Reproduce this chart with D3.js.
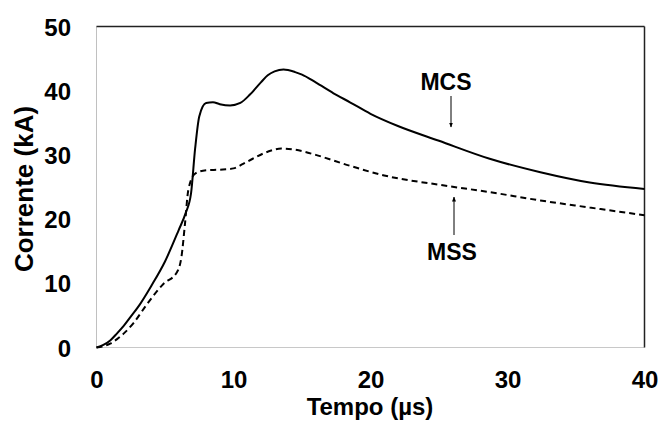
<!DOCTYPE html>
<html>
<head>
<meta charset="utf-8">
<script src="https://cdn.jsdelivr.net/npm/d3@7"></script>
<style>
  html, body { margin: 0; padding: 0; background: #fff; }
  svg { display: block; font-family: "Liberation Sans", Arial, sans-serif; }
</style>
</head>
<body>
<svg id="chart" width="660" height="421"></svg>
<script>
// Current waveforms (kA) versus time (µs)
const mcsTime = [0, 0.5, 1, 1.5, 2, 2.5, 3, 4, 5, 6, 6.5, 6.9, 7.2, 7.5, 8, 8.5, 9, 9.75, 10.5, 11.2, 12, 12.5, 13, 13.65, 14.5, 15, 16, 17.3, 18.5, 20, 22, 25, 28.7, 32.4, 36, 40];
const mcsCurrent = [0, 0.4, 1.1, 2.2, 3.4, 4.8, 6.2, 9.6, 13.4, 18.3, 20.9, 24.0, 31.0, 36.0, 38.1, 38.2, 37.9, 37.7, 38.1, 39.4, 41.3, 42.4, 43.0, 43.3, 42.9, 42.5, 41.3, 39.6, 38.2, 36.4, 34.5, 32.2, 29.4, 27.3, 25.7, 24.7];

const mssTime = [0, 0.5, 1, 1.5, 2, 2.7, 3.67, 4.88, 5.86, 6.2, 6.46, 6.7, 7.2, 8, 9, 10, 10.7, 11.4, 12.5, 13.5, 14.5, 16, 18.5, 21, 25.5, 28.7, 32.4, 36, 40];
const mssCurrent = [0, 0.2, 0.6, 1.3, 2.2, 3.8, 6.7, 9.9, 11.7, 14.1, 19.3, 24.5, 27.1, 27.6, 27.7, 27.9, 28.6, 29.4, 30.5, 31.0, 30.8, 30.0, 28.3, 26.8, 25.2, 24.2, 22.9, 21.8, 20.6];

const xTicks = [0, 10, 20, 30, 40];
const yTicks = [0, 10, 20, 30, 40, 50];

const svg = d3.select("#chart");
const plotLeft = 96.5, plotRight = 644.5, plotTop = 26.5, plotBottom = 347.5;

const x = d3.scaleLinear().domain([0, 40]).range([plotLeft, plotRight]);
const y = d3.scaleLinear().domain([0, 50]).range([plotBottom, plotTop]);

// Plot frame: light left/bottom axes, dark top/right borders
svg.append("line").attr("x1", plotLeft).attr("x2", plotLeft).attr("y1", plotTop).attr("y2", plotBottom)
  .attr("stroke", "#c0c0c0").attr("stroke-width", 1);
svg.append("line").attr("x1", plotLeft).attr("x2", plotRight).attr("y1", plotBottom).attr("y2", plotBottom)
  .attr("stroke", "#c8c8c8").attr("stroke-width", 1);
svg.append("line").attr("x1", plotLeft).attr("x2", plotRight).attr("y1", plotTop).attr("y2", plotTop)
  .attr("stroke", "#222").attr("stroke-width", 1.5);
svg.append("line").attr("x1", plotRight).attr("x2", plotRight).attr("y1", plotTop).attr("y2", plotBottom)
  .attr("stroke", "#222").attr("stroke-width", 1.5);

// Tick labels
const xAxis = d3.axisBottom(x).tickValues(xTicks).tickSize(0).tickPadding(0);
const gx = svg.append("g").attr("transform", `translate(0,${plotBottom})`).call(xAxis);
gx.select(".domain").remove();
gx.selectAll("text").attr("dy", null).attr("y", 40)
  .style("font-size", "24px").style("font-weight", "bold").attr("fill", "#000")
  .style("font-family", "'Liberation Sans', Arial, sans-serif");

const yAxis = d3.axisLeft(y).tickValues(yTicks).tickSize(0).tickPadding(0);
const gy = svg.append("g").attr("transform", `translate(71,0)`).call(yAxis);
gy.select(".domain").remove();
gy.selectAll("text").attr("x", 0).attr("dy", "0.36em")
  .style("font-size", "24px").style("font-weight", "bold").attr("fill", "#000")
  .style("font-family", "'Liberation Sans', Arial, sans-serif");

// Axis titles
svg.append("text").attr("x", 370).attr("y", 415).attr("text-anchor", "middle")
  .style("font-size", "24px").style("font-weight", "bold").text("Tempo (µs)");
svg.append("text").attr("transform", "translate(33,189) rotate(-90)").attr("text-anchor", "middle")
  .style("font-size", "26px").style("font-weight", "bold").text("Corrente (kA)");

// Curves
const line = d3.line().x(d => x(d[0])).y(d => y(d[1])).curve(d3.curveMonotoneX);
const mcs = mcsTime.map((t, i) => [t, mcsCurrent[i]]);
const mss = mssTime.map((t, i) => [t, mssCurrent[i]]);

svg.append("path").datum(mss).attr("d", line).attr("fill", "none")
  .attr("stroke", "#000").attr("stroke-width", 2).attr("stroke-dasharray", "6,4");
svg.append("path").datum(mcs).attr("d", line).attr("fill", "none")
  .attr("stroke", "#000").attr("stroke-width", 2);

// Series annotations with arrows
svg.append("defs").append("marker").attr("id", "arrow")
  .attr("viewBox", "0 0 10 10").attr("refX", 9).attr("refY", 5)
  .attr("markerWidth", 5).attr("markerHeight", 6).attr("orient", "auto")
  .append("path").attr("d", "M0,1 L10,5 L0,9 Z").attr("fill", "#000");

svg.append("text").attr("x", 446).attr("y", 90).attr("text-anchor", "middle")
  .style("font-size", "23px").style("font-weight", "bold").text("MCS");
svg.append("line").attr("x1", 451).attr("x2", 451).attr("y1", 96).attr("y2", 127)
  .attr("stroke", "#000").attr("stroke-width", 1).attr("marker-end", "url(#arrow)");

svg.append("text").attr("x", 452).attr("y", 260).attr("text-anchor", "middle")
  .style("font-size", "23px").style("font-weight", "bold").text("MSS");
svg.append("line").attr("x1", 454).attr("x2", 454).attr("y1", 235).attr("y2", 197)
  .attr("stroke", "#000").attr("stroke-width", 1).attr("marker-end", "url(#arrow)");
</script>
</body>
</html>
